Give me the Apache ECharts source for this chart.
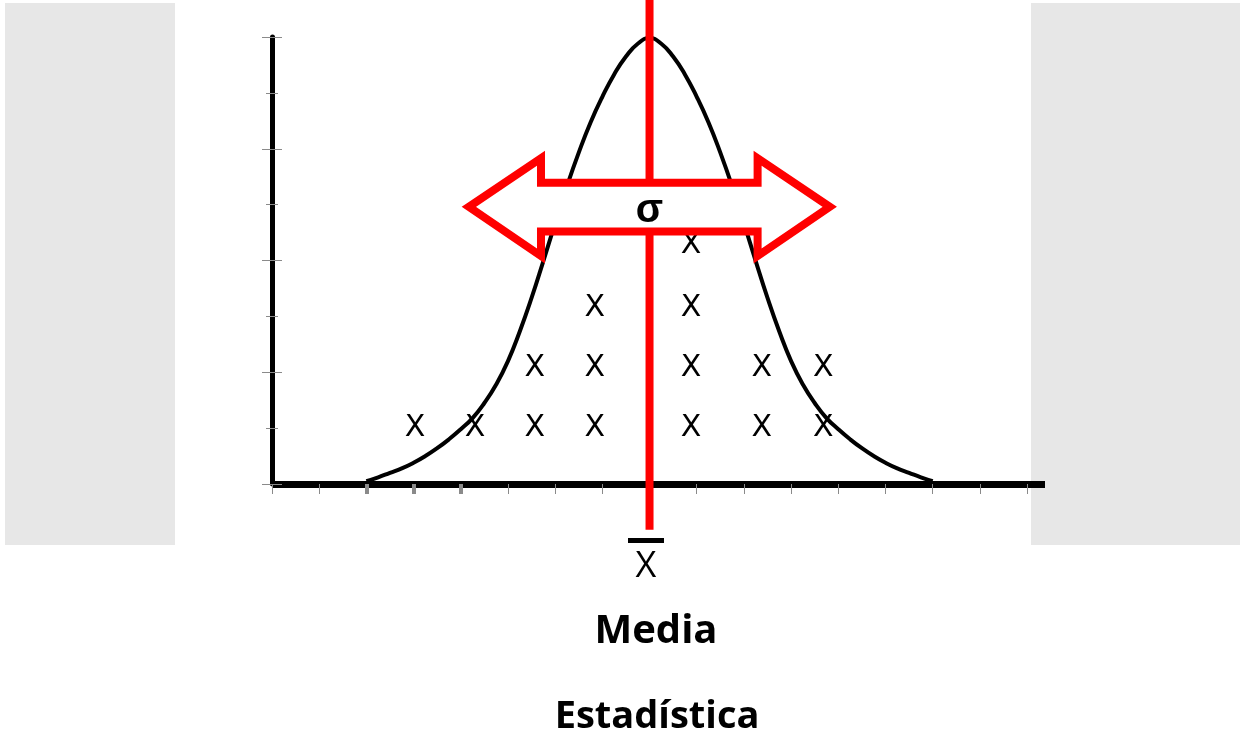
<!DOCTYPE html>
<html>
<head>
<meta charset="utf-8">
<title>Media - Estadística</title>
<script src="https://cdn.jsdelivr.net/npm/echarts@6/dist/echarts.min.js"></script>
<style>
  html, body { margin: 0; padding: 0; background: #fff; }
  #main { width: 1240px; height: 735px; }
</style>
</head>
<body>
<div id="main"></div>
<script>
// bell curve (axis units)
const curveX = [2, 2.25, 2.5, 2.75, 3, 3.25, 3.5, 3.75, 4, 4.25, 4.5, 4.75,
                5, 5.25, 5.5, 5.75, 6, 6.25, 6.5, 6.75, 7, 7.25, 7.5, 7.75, 8,
                8.25, 8.5, 8.75, 9, 9.25, 9.5, 9.75, 10, 10.25, 10.5, 10.75,
                11, 11.25, 11.5, 11.75, 12, 12.25, 12.5, 12.75, 13, 13.25, 13.5, 13.75, 14];
const curveY = [0.05, 0.12, 0.2, 0.28, 0.38, 0.5, 0.64, 0.8, 0.98, 1.18, 1.45, 1.78,
                2.2, 2.73, 3.33, 3.99, 4.67, 5.33, 5.93, 6.47, 6.93, 7.33, 7.65, 7.88, 7.98,
                7.88, 7.65, 7.33, 6.93, 6.47, 5.93, 5.33, 4.67, 3.99, 3.33, 2.73,
                2.2, 1.78, 1.45, 1.18, 0.98, 0.8, 0.64, 0.5, 0.38, 0.28, 0.2, 0.12, 0.05];

// the "X" observations
const markX = [3.03, 4.30, 5.57, 6.84, 8.88, 10.38, 11.68,
               5.57, 6.84, 8.88, 10.38, 11.68,
               6.84, 8.88,
               8.88];
const markY = [1.0, 1.0, 1.0, 1.0, 1.0, 1.0, 1.0,
               2.08, 2.08, 2.08, 2.08, 2.08,
               3.15, 3.15,
               4.28];

// x axis ticks
const xTicks = [0, 1, 2, 3, 4, 5, 6, 7, 8, 9, 10, 11, 12, 13, 14, 15, 16];
const xThickTicks = [2, 3, 4];

// mean line and sigma arrow (axis units)
const meanX = 8;
const meanLineY = [8.66, -0.82];
const arrowX = [4.17, 5.70, 5.70, 10.29, 10.29, 11.82, 10.29, 10.29, 5.70, 5.70];
const arrowY = [4.96, 5.83, 5.39, 5.39, 5.83, 4.96, 4.08, 4.52, 4.52, 4.08];
const sigmaY = 4.88;

const chart = echarts.init(document.getElementById('main'));

const tickGray = '#8a8a8a';

const option = {
  animation: false,
  backgroundColor: '#fff',
  grid: { left: 272, right: 195, top: 37, bottom: 251 },
  xAxis: [{
    type: 'value', position: 'bottom', min: 0, max: 16.38,
    axisLine: { show: true, lineStyle: { color: '#000', width: 7, cap: 'butt' } },
    axisTick: { show: true, customValues: xTicks, length: 10, lineStyle: { color: tickGray, width: 1 } },
    axisLabel: { show: false },
    splitLine: { show: false }
  }, {
    type: 'value', position: 'bottom', min: 0, max: 16.38,
    axisLine: { show: false },
    axisTick: { show: true, customValues: xThickTicks, length: 10, lineStyle: { color: tickGray, width: 4 } },
    axisLabel: { show: false },
    splitLine: { show: false }
  }],
  yAxis: [{
    type: 'value', position: 'left', min: 0, max: 8, interval: 2,
    axisLine: { show: true, lineStyle: { color: '#000', width: 5 } },
    axisTick: { show: true, inside: false, length: 10, lineStyle: { color: tickGray, width: 1 } },
    minorTick: { show: true, splitNumber: 2, length: 6, lineStyle: { color: tickGray, width: 1 } },
    axisLabel: { show: false },
    splitLine: { show: false }
  }, {
    type: 'value', position: 'left', min: 0, max: 8, interval: 2,
    axisLine: { show: false },
    axisTick: { show: true, inside: true, length: 10, lineStyle: { color: tickGray, width: 1 } },
    minorTick: { show: true, splitNumber: 2, length: 6, lineStyle: { color: tickGray, width: 1 } },
    axisLabel: { show: false },
    splitLine: { show: false }
  }],
  graphic: [
    // grey side panels
    { type: 'rect', z: -10, shape: { x: 5, y: 3, width: 170, height: 542 }, style: { fill: '#e7e7e7' } },
    { type: 'rect', z: -10, shape: { x: 1031, y: 3, width: 209, height: 542 }, style: { fill: '#e7e7e7' } },
    // x bar label
    { type: 'rect', shape: { x: 628, y: 538, width: 36, height: 5 }, style: { fill: '#000' } },
    { type: 'text', x: 646, y: 567, style: { text: 'X', font: '36px "Open Sans"', fill: '#000', textAlign: 'center', textVerticalAlign: 'middle' } },
    { type: 'text', x: 656, y: 632, style: { text: 'Media', font: 'bold 40px "Open Sans"', fill: '#000', textAlign: 'center', textVerticalAlign: 'middle' } },
    { type: 'text', x: 657, y: 717, style: { text: 'Estadística', font: 'bold 38px "Open Sans"', fill: '#000', textAlign: 'center', textVerticalAlign: 'middle' } }
  ],
  series: [{
    type: 'line',
    z: 2,
    smooth: true,
    showSymbol: false,
    lineStyle: { color: '#000', width: 4 },
    data: curveX.map((x, i) => [x, curveY[i]])
  }, {
    type: 'scatter',
    z: 3,
    symbolSize: 1,
    itemStyle: { color: '#fff', opacity: 0 },
    label: {
      show: true, position: 'inside', formatter: 'X',
      fontFamily: 'DejaVu Sans', fontSize: 30, color: '#000',
      textBorderWidth: 0, opacity: 1
    },
    data: markX.map((x, i) => [x, markY[i]])
  }, {
    type: 'custom',
    z: 5,
    clip: false,
    data: [[meanX, 0]],
    renderItem: function (params, api) {
      const top = api.coord([meanX, meanLineY[0]]);
      const bottom = api.coord([meanX, meanLineY[1]]);
      const pts = arrowX.map((x, i) => api.coord([x, arrowY[i]]));
      const s = api.coord([meanX, sigmaY]);
      return {
        type: 'group',
        children: [
          { type: 'line', shape: { x1: top[0], y1: top[1], x2: bottom[0], y2: bottom[1] },
            style: { stroke: '#ff0000', lineWidth: 8 } },
          { type: 'polygon', shape: { points: pts },
            style: { fill: '#fff', stroke: '#ff0000', lineWidth: 8, lineJoin: 'miter', miterLimit: 10 } },
          { type: 'text', x: s[0], y: s[1],
            style: { text: 'σ', font: 'bold 40px "Liberation Sans"', fill: '#000', textAlign: 'center', textVerticalAlign: 'middle' } }
        ]
      };
    }
  }]
};

chart.setOption(option);
</script>
</body>
</html>
